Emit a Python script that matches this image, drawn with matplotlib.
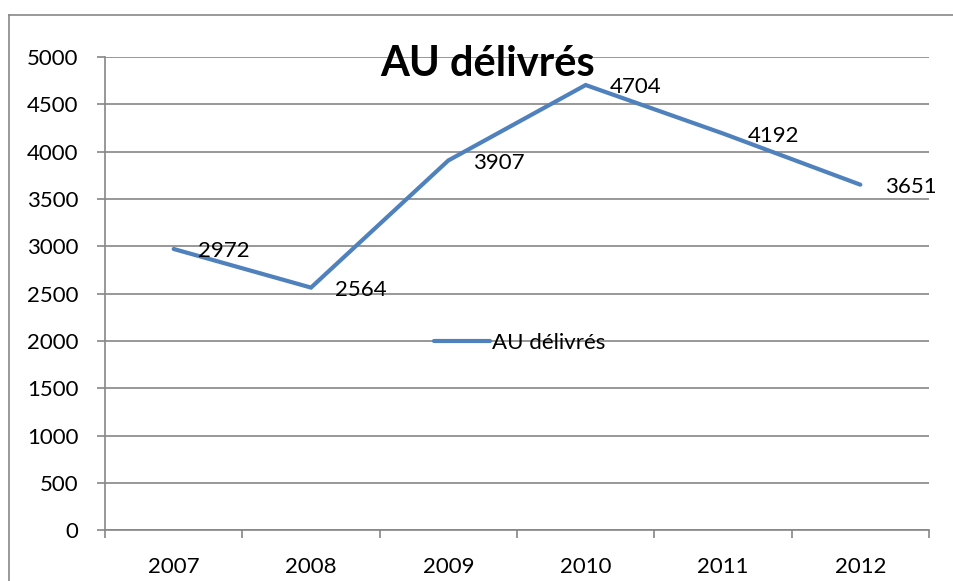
import matplotlib

matplotlib.use("Agg")
import matplotlib.pyplot as plt
from matplotlib.lines import Line2D

plt.rcParams["font.family"] = ["Lato", "DejaVu Sans"]

YEARS = ["2007", "2008", "2009", "2010", "2011", "2012"]
AU_DELIVRES = [2972, 2564, 3907, 4704, 4192, 3651]
Y_TICKS = [0, 500, 1000, 1500, 2000, 2500, 3000, 3500, 4000, 4500, 5000]

TITLE = "AU délivrés"
SERIES_NAME = "AU délivrés"

LINE_COLOR = "#4F81BD"
GRID_COLOR = "#868686"

W, H = 954, 581

fig = plt.figure(figsize=(W / 100, H / 100), dpi=100)
ax = fig.add_axes([105 / W, 1 - 530.3 / H, (929 - 105) / W, (530.3 - 57) / H])

x = list(range(len(YEARS)))
(line,) = ax.plot(
    x, AU_DELIVRES, color=LINE_COLOR, linewidth=3.0,
    solid_capstyle="round", solid_joinstyle="miter", label=SERIES_NAME, zorder=3,
)

for xi, value in zip(x, AU_DELIVRES):
    ax.annotate(
        str(value), (xi, value), xytext=(17.5, -1.5), textcoords="offset points",
        ha="left", va="center", fontsize=16, color="black", zorder=4,
    )

ax.set_xlim(-0.5, len(YEARS) - 0.5)
ax.set_ylim(0, 5000)
ax.set_yticks(Y_TICKS)
ax.set_yticklabels([str(t) for t in Y_TICKS])
ax.set_xticks(x)
ax.set_xticklabels(YEARS)
ax.set_xticks([i - 0.5 for i in range(len(YEARS) + 1)], minor=True)

ax.tick_params(axis="x", which="major", length=0, pad=19.5, labelsize=16)
ax.tick_params(axis="x", which="minor", length=6, width=1.2, color=GRID_COLOR, direction="out")
ax.tick_params(axis="y", length=6, width=1.2, color=GRID_COLOR, pad=13, labelsize=16)

ax.grid(axis="y", color=GRID_COLOR, linewidth=1.2)
ax.set_axisbelow(True)
for side in ["top", "right"]:
    ax.spines[side].set_visible(False)
for side in ["left", "bottom"]:
    ax.spines[side].set_color(GRID_COLOR)
    ax.spines[side].set_linewidth(1.2)

fig.text(488 / W, 1 - 64 / H, TITLE, ha="center", va="center",
         fontsize=30, fontweight="bold", color="black")

ax.legend(
    handles=[line], loc="center", bbox_to_anchor=(520 / W, 1 - 343 / H),
    bbox_transform=fig.transFigure, frameon=False, fontsize=16,
    handlelength=2.5, handletextpad=0.1, borderpad=0,
)

# chart-area frame: only the left and top edges fall inside the picture
frame_x, frame_y = 9 / W, 1 - 14.7 / H
fig.add_artist(Line2D([frame_x, frame_x], [0, frame_y], transform=fig.transFigure,
                      color="#888888", linewidth=1.2))
fig.add_artist(Line2D([frame_x, 1], [frame_y, frame_y], transform=fig.transFigure,
                      color="#888888", linewidth=1.2))

fig.savefig("out.png", dpi=100)
